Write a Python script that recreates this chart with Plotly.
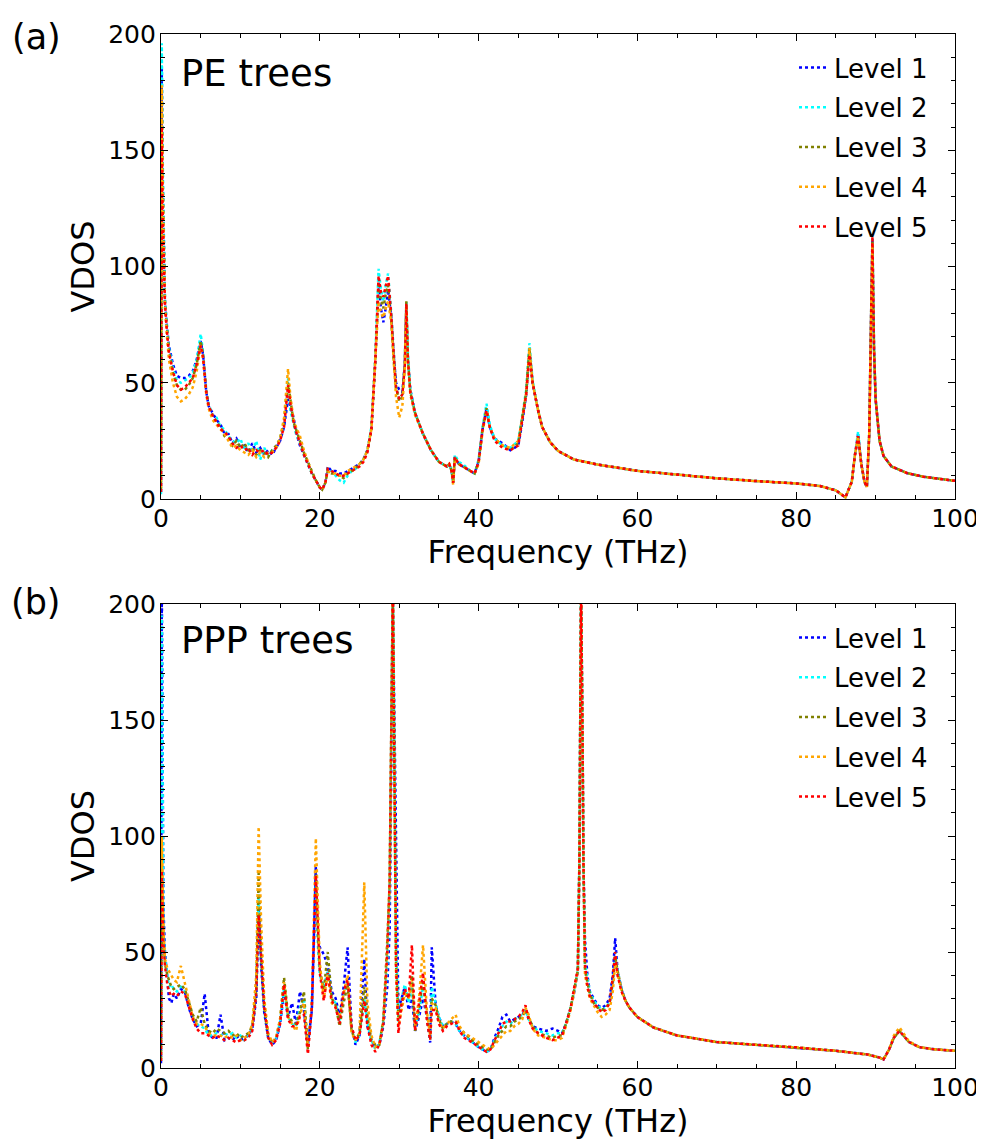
import plotly.graph_objects as go

# ---------------- data: panel (a) PE trees ----------------
pe_freq = [0, 0.1, 0.2, 0.35, 0.5, 0.75, 1.0, 1.5, 2.0, 2.5,
           3.0, 3.5, 4.0, 4.5, 5.0, 5.3, 5.7, 6.0, 6.5, 7.0,
           7.5, 8.0, 8.5, 9.0, 9.5, 10.0, 10.5, 11.0, 11.5, 12.0,
           12.5, 13.0, 13.5, 14.0, 14.5, 15.0, 15.5, 16.0, 16.3, 16.7,
           17.0, 17.5, 18.0, 18.5, 19.0, 19.5, 20.0, 20.3, 20.7, 21.0,
           21.5, 22.0, 22.5, 23.0, 23.5, 24.0, 24.5, 25.0, 25.5, 26.0,
           26.5, 27.0, 27.4, 27.7, 28.0, 28.3, 28.6, 29.0, 29.3, 29.6,
           30.0, 30.4, 30.7, 30.9, 31.1, 31.4, 32.0, 33.0, 34.0, 35.0,
           36.0, 36.3, 36.6, 36.8, 37.0, 37.5, 38.0, 39.0, 39.5, 40.0,
           40.5, 41.0, 41.4, 42.0, 43.0, 44.0, 45.0, 45.5, 46.0, 46.4,
           46.8, 47.5, 48.0, 49.0, 50.0, 52.0, 55.0, 60.0, 65.0, 70.0,
           75.0, 80.0, 83.0, 85.0, 86.2, 87.0, 87.4, 87.8, 88.2, 88.6,
           88.9, 89.2, 89.4, 89.6, 89.8, 90.0, 90.5, 91.0, 92.0, 94.0,
           96.0, 100.0]

pe_level1 = [3, 185, 140, 100, 85, 74, 66, 58, 53, 52,
             52, 53, 55, 60, 68, 62, 46, 40, 37, 34,
             32, 28, 28, 24, 26, 22, 23, 20, 24, 20,
             22, 19, 21, 19, 22, 25, 31, 43, 40, 35,
             29, 23, 19, 15, 11, 8, 5, 4, 7, 14,
             12, 12, 11, 11, 12, 13, 14, 15, 17, 21,
             30, 60, 93, 82, 76, 82, 90, 78, 62, 50,
             47, 46, 58, 82, 60, 47, 37, 28, 21, 16,
             14, 15, 12, 7, 18, 15, 14, 12, 11, 16,
             30, 39, 31, 26, 24, 21, 23, 33, 45, 64,
             50, 38, 31, 24.5, 20.7, 17, 14.8, 12.1, 10.4, 8.9,
             7.7, 6.7, 5.6, 3.7, 0.7, 7.4, 19, 28, 15, 7.4,
             5.2, 28, 72, 112, 65, 43, 25, 18.5, 14, 11.1,
             9.6, 7.8]

pe_level2 = [2, 196, 150, 105, 86, 75, 65, 56, 51, 50,
             51, 52, 54, 60, 71, 63, 47, 41, 36, 35,
             31, 30, 27, 25, 24, 26, 21, 24, 20, 25,
             17, 22, 19, 21, 22, 26, 33, 52, 38, 32,
             28, 24, 19, 15, 11, 8, 5, 4, 7, 13,
             12, 10, 8, 7, 10, 12, 13, 15, 17, 21,
             31, 62, 99, 90, 85, 92, 97, 80, 62, 48,
             43, 45, 58, 85, 62, 47, 37, 28, 21, 16,
             14, 15, 12, 7, 19, 16, 15, 12, 11, 17,
             31, 41, 32, 26, 23, 22, 25, 36, 47, 67,
             51, 38, 31, 24.5, 20.7, 17, 14.8, 12.1, 10.4, 8.9,
             7.7, 6.7, 5.6, 3.7, 0.7, 7.4, 19, 29, 15, 7.4,
             5.2, 28, 72, 112, 65, 43, 25, 18.5, 14, 11.1,
             9.6, 7.8]

pe_level3 = [4, 175, 135, 98, 84, 73, 64, 54, 49, 47,
             47, 49, 52, 58, 68, 62, 46, 40, 36, 33,
             31, 27, 26, 23, 25, 22, 24, 21, 22, 19,
             21, 20, 18, 21, 23, 26, 33, 50, 42, 33,
             30, 25, 20, 16, 12, 8, 5, 4, 7, 12,
             11, 11, 10, 9, 11, 12, 13, 15, 17, 21,
             30, 60, 92, 86, 82, 88, 92, 78, 60, 48,
             42, 44, 58, 85, 60, 46, 37, 28, 21, 16,
             14, 15, 12, 7, 18, 15, 14, 12, 11, 16,
             30, 39, 31, 26, 23, 21, 24, 35, 46, 65,
             50, 38, 31, 24.5, 20.7, 17, 14.8, 12.1, 10.4, 8.9,
             7.7, 6.7, 5.6, 3.7, 0.7, 7.4, 19, 27, 15, 7.4,
             5.2, 28, 72, 111, 65, 43, 25, 18.5, 14, 11.1,
             9.6, 7.8]

pe_level4 = [5, 178, 140, 100, 82, 70, 60, 50, 44, 42,
             43, 45, 48, 55, 66, 60, 45, 39, 34, 32,
             30, 28, 25, 22, 23, 21, 20, 19, 21, 18,
             20, 18, 20, 20, 22, 26, 35, 56, 44, 34,
             31, 27, 21, 16, 11, 8, 5, 4, 7, 12,
             11, 11, 10, 10, 12, 13, 14, 15, 17, 21,
             30, 58, 85, 80, 78, 82, 85, 76, 58, 44,
             35, 40, 56, 82, 58, 45, 36, 28, 21, 16,
             14, 15, 12, 6, 17, 15, 14, 12, 11, 15,
             29, 38, 31, 26, 23, 22, 25, 35, 46, 65,
             50, 38, 31, 24.5, 20.7, 17, 14.8, 12.1, 10.4, 8.9,
             7.7, 6.7, 5.6, 3.7, 0.7, 7.4, 19, 27, 15, 7.4,
             5.2, 28, 72, 110, 65, 43, 25, 18.5, 14, 11.1,
             9.6, 7.8]

pe_level5 = [3, 160, 125, 97, 84, 72, 63, 55, 49, 47,
             48, 50, 52, 58, 66, 61, 46, 40, 36, 33,
             30, 29, 27, 24, 22, 23, 21, 22, 19, 21,
             20, 21, 19, 20, 22, 25, 31, 49, 41, 33,
             29, 24, 19, 15, 11, 8, 5, 4, 7, 13,
             12, 11, 10, 10, 11, 12, 13, 14, 16, 20,
             30, 60, 96, 89, 87, 92, 96, 79, 61, 48,
             43, 45, 57, 84, 60, 46, 37, 28, 21, 16,
             14, 15, 12, 7, 18, 15, 14, 12, 11, 16,
             30, 38, 31, 25, 22, 21, 23, 34, 45, 62,
             50, 38, 31, 24.5, 20.7, 17, 14.8, 12.1, 10.4, 8.9,
             7.7, 6.7, 5.6, 3.7, 0.7, 7.4, 19, 27, 15, 7.4,
             5.2, 28, 72, 113, 65, 43, 25, 18.5, 14, 11.1,
             9.6, 7.8]

# ---------------- data: panel (b) PPP trees ----------------
ppp_freq = [0, 0.1, 0.3, 0.5, 0.8, 1.0, 1.3, 1.6, 2.0, 2.5,
            3.0, 3.5, 4.0, 4.5, 5.0, 5.5, 6.0, 6.5, 7.0, 7.5,
            8.0, 8.5, 9.0, 9.5, 10.0, 10.5, 11.0, 11.5, 12.0, 12.3,
            12.6, 13.0, 13.5, 14.0, 14.5, 15.0, 15.5, 16.0, 16.5, 17.0,
            17.5, 18.0, 18.5, 19.0, 19.5, 19.8, 20.0, 20.5, 21.0, 21.5,
            22.0, 22.5, 23.0, 23.5, 24.0, 24.5, 25.0, 25.6, 26.0, 26.5,
            27.0, 27.5, 28.0, 28.5, 28.8, 29.2, 29.6, 29.9, 30.3, 30.7,
            31.2, 31.6, 32.0, 32.5, 33.0, 33.5, 33.9, 34.1, 34.6, 35.0,
            35.5, 36.0, 36.5, 37.1, 37.6, 38.2, 39.2, 40.0, 40.5, 41.0,
            41.5, 42.0, 42.5, 43.0, 43.5, 44.0, 44.5, 45.0, 45.5, 45.9,
            46.3, 46.8, 47.5, 48.5, 49.3, 50.0, 50.5, 51.0, 51.6, 52.0,
            52.5, 52.7, 52.9, 53.1, 53.2, 53.4, 53.7, 54.0, 54.5, 55.0,
            55.5, 56.0, 56.5, 56.9, 57.2, 57.5, 58.0, 58.5, 59.0, 60.0,
            62.0, 65.0, 70.0, 75.0, 80.0, 85.0, 89.0, 90.5, 91.0, 91.7,
            92.3, 93.0, 93.5, 94.2, 95.5, 97.0, 100.0]

ppp_level1 = [2, 210, 70, 50, 38, 30, 28, 32, 30, 34,
              33, 26, 21, 18, 19, 32, 15, 13, 13, 23,
              12, 13, 12, 14, 12, 13, 14, 17, 30, 70,
              45, 24, 13, 10, 12, 19, 33, 22, 28, 19,
              33, 25, 10, 25, 87, 55, 52, 49, 44, 33,
              30, 22, 35, 52, 18, 10, 14, 47, 18, 12,
              9, 10, 18, 35, 60, 200, 107, 25, 30, 35,
              25, 30, 16, 22, 30, 22, 11, 52, 27, 22,
              18, 19, 20, 19, 16, 14, 11, 9, 8, 7,
              8, 13, 17, 22, 23, 20, 21, 22, 23, 25,
              21, 18, 17, 16, 17, 16, 15, 19, 26, 32,
              42, 91, 210, 140, 90, 55, 40, 33, 30, 27,
              26, 27, 30, 40, 56, 42, 34, 29, 26, 22,
              17.5, 14, 11.2, 10, 8.9, 7.4, 5.8, 4.5, 3.7, 8,
              13, 16, 14, 11.2, 9, 8.2, 7.4]

ppp_level2 = [3, 195, 60, 48, 40, 35, 36, 34, 33, 35,
              33, 27, 22, 19, 18, 17, 14, 14, 15, 14,
              15, 14, 15, 13, 14, 12, 14, 17, 32, 75,
              47, 25, 13, 11, 13, 20, 35, 22, 19, 18,
              26, 30, 9, 26, 80, 50, 40, 35, 42, 30,
              28, 20, 30, 38, 17, 11, 14, 30, 20, 12,
              8, 11, 20, 45, 78, 210, 55, 20, 30, 36,
              28, 35, 18, 24, 35, 22, 12, 35, 28, 22,
              18, 19, 20, 19, 16, 14, 11, 9, 8, 7,
              8, 12, 15, 18, 20, 19, 21, 22, 23, 25,
              21, 18, 16, 15, 14, 15, 15, 19, 26, 33,
              42, 91, 210, 140, 90, 45, 38, 33, 29, 27,
              25, 26, 28, 36, 50, 42, 34, 29, 26, 22,
              17.5, 14, 11.2, 10, 8.9, 7.4, 5.8, 4.5, 3.7, 8,
              13, 16, 14, 11.2, 9, 8.2, 7.4]

ppp_level3 = [4, 90, 58, 45, 40, 38, 35, 34, 35, 36,
              34, 28, 23, 20, 26, 19, 16, 15, 17, 16,
              15, 16, 14, 15, 13, 14, 15, 18, 34, 84,
              50, 27, 14, 11, 13, 21, 39, 23, 20, 19,
              24, 33, 8, 27, 85, 55, 43, 33, 50, 30,
              27, 18, 28, 36, 16, 12, 15, 35, 22, 12,
              10, 10, 21, 55, 80, 210, 45, 22, 28, 33,
              30, 40, 16, 26, 38, 22, 13, 30, 27, 21,
              17, 19, 20, 20, 17, 15, 12, 10, 9, 8,
              8, 11, 14, 16, 18, 18, 20, 21, 22, 25,
              22, 18, 15, 14, 13, 14, 14, 19, 26, 33,
              42, 91, 210, 140, 90, 42, 37, 32, 28, 26,
              25, 26, 28, 38, 48, 42, 34, 29, 26, 22,
              17.5, 14, 11.2, 10, 8.9, 7.4, 5.8, 4.5, 3.7, 8,
              13, 16, 14, 11.2, 9, 8.2, 7.4]

ppp_level4 = [3, 100, 60, 47, 43, 42, 40, 38, 37, 44,
              37, 29, 22, 19, 19, 18, 15, 14, 14, 14,
              13, 14, 13, 14, 12, 13, 14, 19, 40, 104,
              64, 30, 15, 11, 13, 21, 37, 22, 19, 16,
              23, 28, 9, 28, 99, 60, 45, 30, 40, 28,
              26, 22, 32, 40, 15, 12, 15, 80, 28, 14,
              9, 10, 20, 50, 80, 210, 40, 18, 25, 32,
              30, 38, 18, 30, 53, 24, 14, 28, 26, 20,
              17, 19, 21, 23, 18, 15, 13, 11, 10, 9,
              8, 10, 12, 14, 16, 16, 18, 19, 21, 26,
              23, 17, 14, 13, 12, 12, 13, 18, 25, 32,
              42, 91, 210, 140, 90, 40, 35, 30, 27, 24,
              22, 23, 25, 33, 45, 40, 33, 29, 26, 22,
              17.5, 14, 11.2, 10, 8.9, 7.4, 5.8, 4.5, 3.7, 8,
              14, 17.5, 15, 11.5, 9, 8.2, 7.4]

ppp_level5 = [3, 85, 55, 44, 36, 33, 31, 32, 31, 33,
              32, 26, 21, 17, 15, 15, 14, 13, 14, 13,
              12, 13, 12, 11, 12, 12, 13, 16, 32, 66,
              49, 26, 13, 10, 12, 19, 36, 21, 18, 18,
              22, 23, 6, 26, 83, 52, 41, 29, 41, 29,
              26, 19, 33, 38, 18, 12, 14, 29, 18, 10,
              7, 10, 19, 50, 81, 210, 45, 15, 28, 34,
              30, 53, 16, 28, 41, 20, 12, 25, 25, 19,
              16, 18, 19, 20, 16, 13, 11, 9, 8, 7,
              8, 12, 15, 19, 20, 20, 21, 22, 24, 27,
              21, 17, 15, 13, 12, 13, 14, 19, 26, 34,
              43, 91, 210, 140, 90, 45, 35, 31, 28, 26,
              24, 25, 28, 39, 50, 40, 33, 29, 26, 22,
              17.5, 14, 11.2, 10, 8.9, 7.4, 5.8, 4.5, 3.7, 8,
              13, 16, 14, 11.2, 9, 8.2, 7.4]

level_names = ["Level 1", "Level 2", "Level 3", "Level 4", "Level 5"]
level_colors = ["#0000ff", "#00ffff", "#808000", "#ffa500", "#ff0000"]
x_ticks = [0, 20, 40, 60, 80, 100]
y_ticks = [0, 50, 100, 150, 200]

pe_series = [pe_level1, pe_level2, pe_level3, pe_level4, pe_level5]
ppp_series = [ppp_level1, ppp_level2, ppp_level3, ppp_level4, ppp_level5]
for s in pe_series:
    assert len(s) == len(pe_freq)
for s in ppp_series:
    assert len(s) == len(ppp_freq)

FONT = "DejaVu Sans"
OFF = 8  # page body margin offset of the plot div
W, H = 984 - OFF, 1141 - OFF
# target pixel positions in the final screenshot
L_t, R_t, T_t, B_t = 161, 955, 34, 1068
L, R, T, B = L_t - OFF, R_t - OFF, T_t - OFF, B_t - OFF
pw, ph = R - L, B - T
top_bottom_px = 499
bot_top_px = 604

fig = go.Figure()

for i, (name, color) in enumerate(zip(level_names, level_colors)):
    fig.add_trace(go.Scatter(
        x=pe_freq, y=pe_series[i], mode="lines", name=name,
        line=dict(color=color, width=2.5, dash="dot"),
        xaxis="x", yaxis="y", legend="legend", legendgroup=f"a{i}"))
for i, (name, color) in enumerate(zip(level_names, level_colors)):
    fig.add_trace(go.Scatter(
        x=ppp_freq, y=ppp_series[i], mode="lines", name=name,
        line=dict(color=color, width=2.5, dash="dot"),
        xaxis="x2", yaxis="y2", legend="legend2", legendgroup=f"b{i}"))

def xax(anchor):
    return dict(
        range=[0, 100], tickvals=x_ticks, ticks="inside", ticklen=7, tickwidth=1,
        tickcolor="black", showline=True, linecolor="black", linewidth=1.2,
        mirror="allticks", showgrid=False, zeroline=False, anchor=anchor,
        automargin=False,
        tickfont=dict(family=FONT, size=25, color="black"),
        ticklabelstandoff=-3,
        minor=dict(dtick=5, ticks="inside", ticklen=4, tickcolor="black", showgrid=False),
        title=dict(text="Frequency (THz)", font=dict(family=FONT, size=32, color="black"),
                   standoff=0),
    )

def yax(anchor, domain):
    return dict(
        range=[0, 200], tickvals=y_ticks, ticks="inside", ticklen=7, tickwidth=1,
        tickcolor="black", showline=True, linecolor="black", linewidth=1.2,
        mirror="allticks", showgrid=False, zeroline=False, anchor=anchor,
        automargin=False, domain=domain,
        tickfont=dict(family=FONT, size=25, color="black"),
        ticklabelstandoff=-1,
        minor=dict(dtick=10, ticks="inside", ticklen=4, tickcolor="black", showgrid=False),
        title=dict(text="VDOS", font=dict(family=FONT, size=32, color="black"),
                   standoff=3),
    )

dom_top = [(B_t - top_bottom_px) / ph, 1.0]
dom_bot = [0.0, (B_t - bot_top_px) / ph]

def py(pix):
    return (B_t - pix) / ph

def px(pix):
    return (pix - L_t) / pw

legend_common = dict(
    xanchor="left", yanchor="top", bgcolor="rgba(0,0,0,0)", borderwidth=0,
    font=dict(family=FONT, size=26, color="black"), tracegroupgap=3,
)

fig.update_layout(
    width=W, height=H,
    margin=dict(l=L, r=W - R, t=T, b=H - B, autoexpand=False),
    paper_bgcolor="white", plot_bgcolor="white",
    showlegend=True,
    xaxis=xax("y"), yaxis=yax("x", dom_top),
    xaxis2=xax("y2"), yaxis2=yax("x2", dom_bot),
    legend=dict(x=px(794), y=py(44), **legend_common),
    legend2=dict(x=px(794), y=py(614), **legend_common),
    annotations=[
        dict(text="(a)", x=px(36), y=py(37), xref="paper", yref="paper",
             xanchor="center", yanchor="middle",
             showarrow=False, font=dict(family=FONT, size=35, color="black")),
        dict(text="(b)", x=px(36), y=py(602), xref="paper", yref="paper",
             xanchor="center", yanchor="middle",
             showarrow=False, font=dict(family=FONT, size=35, color="black")),
        dict(text="PE trees", x=px(179), y=py(73), xref="paper", yref="paper",
             xanchor="left", yanchor="middle",
             showarrow=False, font=dict(family=FONT, size=37, color="black")),
        dict(text="PPP trees", x=px(179), y=py(640), xref="paper", yref="paper",
             xanchor="left", yanchor="middle",
             showarrow=False, font=dict(family=FONT, size=37, color="black")),
    ],
)

fig.write_html("out.html")
